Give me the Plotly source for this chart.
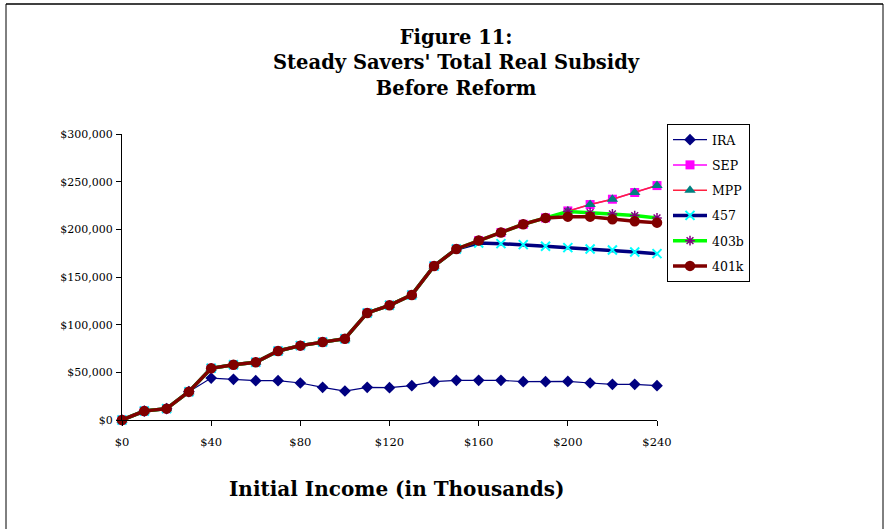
import plotly.graph_objects as go

income = [0, 10, 20, 30, 40, 50, 60, 70, 80, 90, 100, 110, 120, 130, 140, 150,
          160, 170, 180, 190, 200, 210, 220, 230, 240]

common = [0, 9400, 11900, 29700, 54200, 58000, 60500, 72400, 78000, 81800, 85300,
          112300, 120300, 131200, 161600, 179400]

ira = [0, 9400, 11900, 29700, 44000, 42700, 41300, 41300, 38800, 34300, 30400,
       34300, 33900, 36000, 40200, 41600, 41600, 41600, 40200, 40200, 40500,
       38800, 37400, 37400, 36000]
sep = common + [188200, 196600, 205300, 212000, 219300, 226000, 231600, 238600, 245900]
mpp = list(sep)
s457 = common + [185700, 185000, 184000, 182300, 180800, 179400, 178400, 176300, 174500]
s403b = common + [188200, 196600, 205300, 212000, 218600, 217500, 216200, 214400, 212000]
s401k = common + [188200, 196600, 205300, 212000, 213300, 213300, 210600, 208500, 207000]

x_tick_vals = [0, 40, 80, 120, 160, 200, 240]
x_tick_text = ["$0", "$40", "$80", "$120", "$160", "$200", "$240"]
y_tick_vals = [0, 50000, 100000, 150000, 200000, 250000, 300000]
y_tick_text = ["$0", "$50,000", "$100,000", "$150,000", "$200,000", "$250,000", "$300,000"]

FONT = "DejaVu Serif"

fig = go.Figure()
fig.add_trace(go.Scatter(x=income, y=ira, name="IRA", mode="lines+markers", legendgroup="a",
                         line=dict(color="#000080", width=1.2),
                         marker=dict(symbol="diamond", size=9, color="#000080"),
                         cliponaxis=False))
fig.add_trace(go.Scatter(x=income, y=sep, name="SEP", mode="lines+markers", legendgroup="b",
                         line=dict(color="#FF00FF", width=1.5),
                         marker=dict(symbol="square", size=9, color="#FF00FF"),
                         cliponaxis=False))
fig.add_trace(go.Scatter(x=income, y=mpp, name="MPP", mode="lines+markers", legendgroup="c",
                         line=dict(color="#FF2040", width=1.5),
                         marker=dict(symbol="triangle-up", size=10, color="#008080"),
                         cliponaxis=False))
fig.add_trace(go.Scatter(x=income, y=s457, name="457", mode="lines+markers", legendgroup="d",
                         line=dict(color="#000080", width=3.5),
                         marker=dict(symbol="x-thin-open", size=9, color="#00FFFF",
                                     line=dict(color="#00FFFF", width=2)),
                         cliponaxis=False))
fig.add_trace(go.Scatter(x=income, y=s403b, name="403b", mode="lines+markers", legendgroup="e",
                         line=dict(color="#00FF00", width=3.5),
                         marker=dict(symbol="asterisk-open", size=8, color="#800080",
                                     line=dict(color="#800080", width=1.5)),
                         cliponaxis=False))
fig.add_trace(go.Scatter(x=income, y=s401k, name="401k", mode="lines+markers", legendgroup="f",
                         line=dict(color="#800000", width=3.5),
                         marker=dict(symbol="circle", size=10.5, color="#800000"),
                         cliponaxis=False))

L, R, T, B = 122, 657, 134, 420
W, H = 886, 529
pw, ph = R - L, B - T

def px(xp):
    return (xp - L) / pw

def py(yp):
    return (B - yp) / ph

fig.update_layout(
    width=W, height=H,
    margin=dict(l=L, r=W - R, t=T, b=H - B, pad=0),
    paper_bgcolor="white", plot_bgcolor="white",
    font=dict(family=FONT, color="black", size=12),
    showlegend=True,
    legend=dict(x=px(667), y=py(124), xanchor="left", yanchor="top",
                bordercolor="black", borderwidth=1, bgcolor="white",
                font=dict(family=FONT, size=12.5), tracegroupgap=6,
                itemwidth=34),
    xaxis=dict(range=[0, 240], tickvals=x_tick_vals, ticktext=x_tick_text,
               showgrid=False, zeroline=False, showline=True, linecolor="black",
               linewidth=1, ticks="outside", ticklen=5, tickcolor="black",
               ticklabelstandoff=6,
               tickfont=dict(family=FONT, size=11.5)),
    yaxis=dict(range=[0, 300000], tickvals=y_tick_vals, ticktext=y_tick_text,
               showgrid=False, zeroline=False, showline=True, linecolor="black",
               linewidth=1, ticks="outside", ticklen=5, tickcolor="black",
               ticklabelstandoff=1,
               tickfont=dict(family=FONT, size=11)),
    annotations=[
        dict(text="<b>Figure 11:<br>Steady Savers' Total Real Subsidy<br>Before Reform</b>",
             x=px(456), y=py(63), xref="paper", yref="paper",
             xanchor="center", yanchor="middle", showarrow=False,
             font=dict(family=FONT, size=19.5), align="center"),
        dict(text="<b>Initial Income (in Thousands)</b>",
             x=px(397), y=py(489), xref="paper", yref="paper",
             xanchor="center", yanchor="middle", showarrow=False,
             font=dict(family=FONT, size=20)),
    ],
    shapes=[
        dict(type="line", xref="paper", yref="paper", x0=px(6), x1=px(883),
             y0=py(4), y1=py(4), line=dict(color="black", width=1.5)),
        dict(type="line", xref="paper", yref="paper", x0=px(6), x1=px(6),
             y0=py(4), y1=py(540), line=dict(color="black", width=1)),
        dict(type="line", xref="paper", yref="paper", x0=px(883), x1=px(883),
             y0=py(4), y1=py(540), line=dict(color="black", width=1)),
    ],
)

fig.write_html("out.html", config={"displayModeBar": False},
               post_script="document.body.style.margin='0';document.body.style.padding='0';")
